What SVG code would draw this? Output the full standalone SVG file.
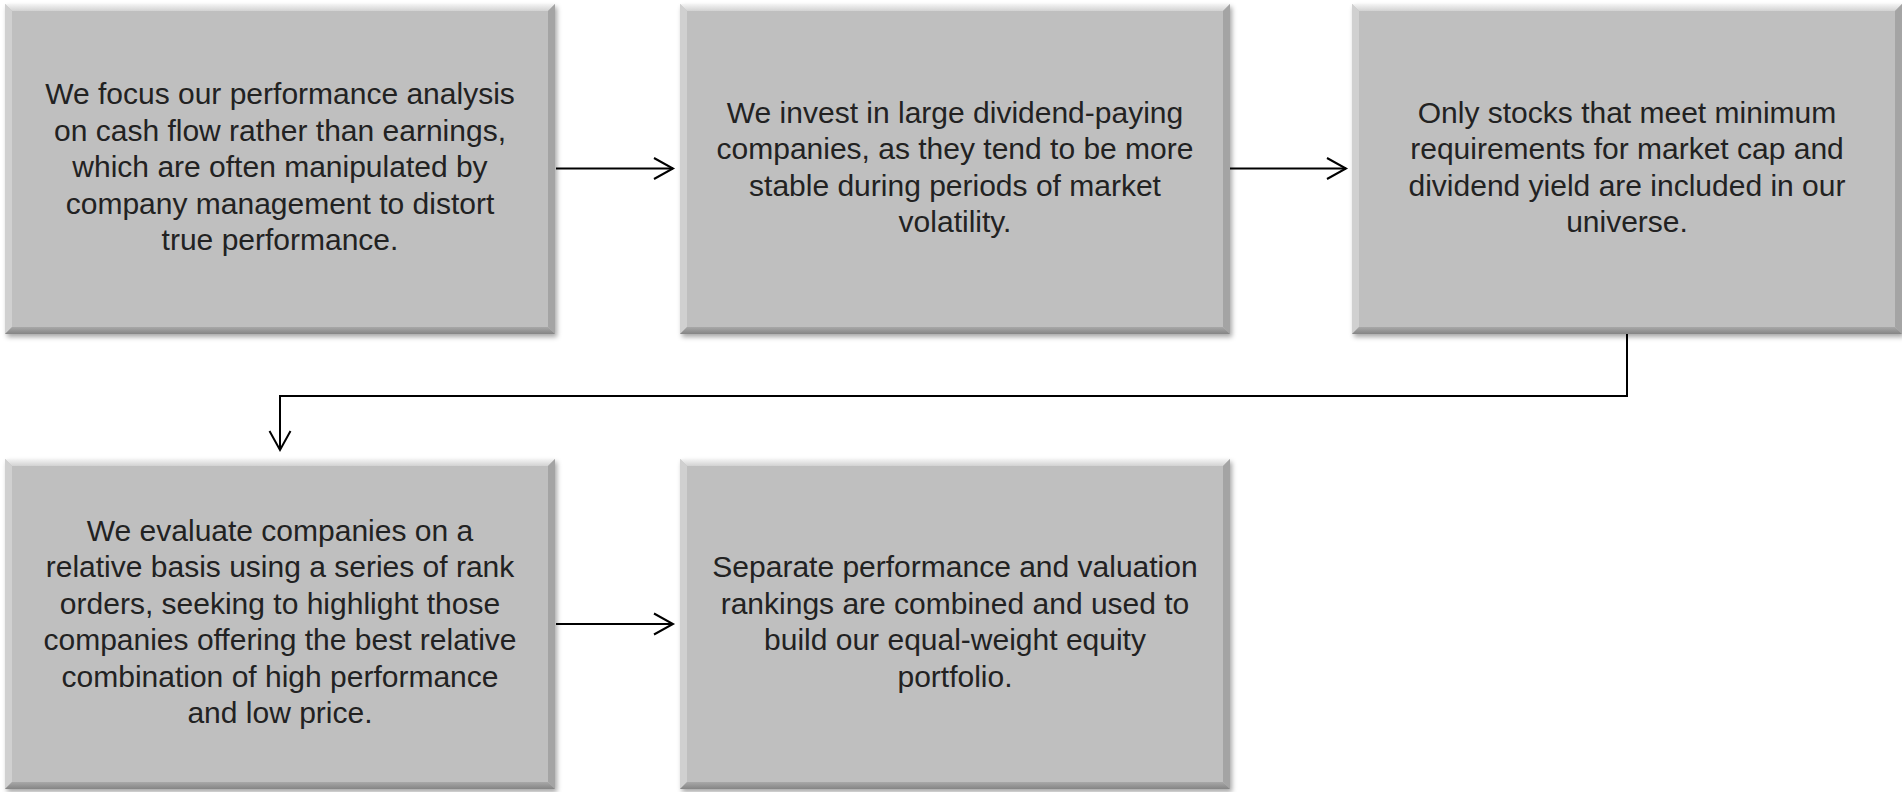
<svg xmlns="http://www.w3.org/2000/svg" xmlns:xlink="http://www.w3.org/1999/xlink" width="1902" height="792" viewBox="0 0 1902 792">
  <style>
    .lbl { font-family: "Liberation Sans", Arial, sans-serif; font-size: 30px; fill: #222222; text-anchor: middle; }
    .conn { fill: none; stroke: #000000; stroke-width: 2; }
  </style>
  <defs>
    <linearGradient id="gTop" x1="0" y1="0" x2="0" y2="1">
      <stop offset="0" stop-color="#f4f4f4"/>
      <stop offset="1" stop-color="#d2d2d2"/>
    </linearGradient>
    <linearGradient id="gBottom" x1="0" y1="0" x2="0" y2="1">
      <stop offset="0" stop-color="#a8a8a8"/>
      <stop offset="1" stop-color="#858585"/>
    </linearGradient>
    <filter id="shadow" x="-5%" y="-5%" width="112%" height="115%">
      <feDropShadow dx="2" dy="3" stdDeviation="2.5" flood-color="#000000" flood-opacity="0.35"/>
    </filter>
    <g id="box">
      <rect x="0" y="0" width="550" height="330" fill="#bfbfbf" filter="url(#shadow)"/>
      <polygon points="0,0 550,0 543,7 7,7" fill="url(#gTop)"/>
      <polygon points="0,0 7,7 7,323 0,330" fill="#d0d0d0"/>
      <polygon points="550,0 550,330 543,323 543,7" fill="#a4a4a4"/>
      <polygon points="0,330 550,330 543,323 7,323" fill="url(#gBottom)"/>
    </g>
    <marker id="arrow" markerUnits="userSpaceOnUse" markerWidth="24" markerHeight="26" viewBox="-2 -2 24 26" refX="19" refY="10.5" orient="auto">
      <path d="M0,0 L19,10.5 L0,21" fill="none" stroke="#000000" stroke-width="2"/>
    </marker>
  </defs>

  <g id="connectors">
    <path class="conn" d="M556,168.5 H673" marker-end="url(#arrow)"/>
    <path class="conn" d="M1230,168.5 H1346" marker-end="url(#arrow)"/>
    <path class="conn" d="M1627,334 V396 H280 V450" marker-end="url(#arrow)"/>
    <path class="conn" d="M556,624 H673" marker-end="url(#arrow)"/>
  </g>

  <g id="node1">
    <use xlink:href="#box" x="5" y="4"/>
    <text class="lbl" x="280" y="104">We focus our performance analysis</text>
    <text class="lbl" x="280" y="140.5">on cash flow rather than earnings,</text>
    <text class="lbl" x="280" y="177">which are often manipulated by</text>
    <text class="lbl" x="280" y="213.5">company management to distort</text>
    <text class="lbl" x="280" y="250">true performance.</text>
  </g>

  <g id="node2">
    <use xlink:href="#box" x="680" y="4"/>
    <text class="lbl" x="955" y="122.5">We invest in large dividend-paying</text>
    <text class="lbl" x="955" y="159">companies, as they tend to be more</text>
    <text class="lbl" x="955" y="195.5">stable during periods of market</text>
    <text class="lbl" x="955" y="232">volatility.</text>
  </g>

  <g id="node3">
    <use xlink:href="#box" x="1352" y="4"/>
    <text class="lbl" x="1627" y="122.5">Only stocks that meet minimum</text>
    <text class="lbl" x="1627" y="159">requirements for market cap and</text>
    <text class="lbl" x="1627" y="195.5">dividend yield are included in our</text>
    <text class="lbl" x="1627" y="232">universe.</text>
  </g>

  <g id="node4">
    <use xlink:href="#box" x="5" y="459"/>
    <text class="lbl" x="280" y="540.5">We evaluate companies on a</text>
    <text class="lbl" x="280" y="577">relative basis using a series of rank</text>
    <text class="lbl" x="280" y="613.5">orders, seeking to highlight those</text>
    <text class="lbl" x="280" y="650">companies offering the best relative</text>
    <text class="lbl" x="280" y="686.5">combination of high performance</text>
    <text class="lbl" x="280" y="723">and low price.</text>
  </g>

  <g id="node5">
    <use xlink:href="#box" x="680" y="459"/>
    <text class="lbl" x="955" y="577">Separate performance and valuation</text>
    <text class="lbl" x="955" y="613.5">rankings are combined and used to</text>
    <text class="lbl" x="955" y="650">build our equal-weight equity</text>
    <text class="lbl" x="955" y="686.5">portfolio.</text>
  </g>
</svg>
